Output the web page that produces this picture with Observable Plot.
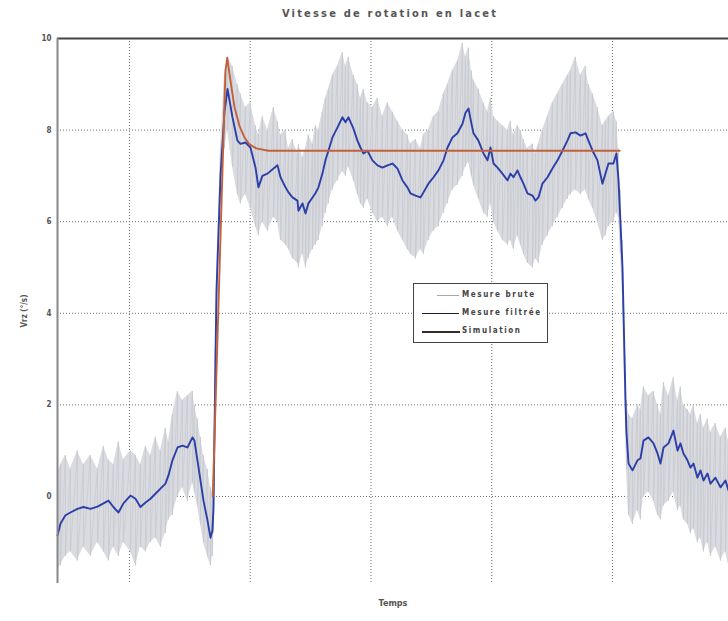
<!DOCTYPE html>
<html><head><meta charset="utf-8">
<script src="https://cdn.jsdelivr.net/npm/d3@7"></script>
<script src="https://cdn.jsdelivr.net/npm/@observablehq/plot@0.6"></script>
<style>
body{margin:0;background:#fff;font-family:"DejaVu Sans Condensed","DejaVu Sans",sans-serif;}
#wrap{position:relative;width:728px;height:621px;overflow:hidden;background:#fff;}
#title{position:absolute;left:390px;top:7px;transform:translateX(-50%);white-space:nowrap;font-size:11px;font-weight:bold;letter-spacing:2.2px;color:#555;}
#chart{position:absolute;left:0;top:30px;}
#legend{position:absolute;left:413px;top:283px;width:133px;height:58px;border:1.5px solid #444;background:#fff;}
.row{position:absolute;left:0;width:133px;height:12px;}
.sw{position:absolute;top:6px;}
.lab{position:absolute;left:48px;top:0;font-size:8px;font-weight:bold;letter-spacing:1.6px;color:#444;line-height:12px;}
</style></head><body>
<div id="wrap">
<div id="title">Vitesse de rotation en lacet</div>
<div id="chart"></div>
<div id="legend">
  <div class="row" style="top:5px"><div class="sw" style="left:23px;width:22px;border-top:1px solid #a9a9a9"></div><div class="lab">Mesure brute</div></div>
  <div class="row" style="top:23px"><div class="sw" style="left:8px;width:37px;border-top:1.5px solid #1d1f3a"></div><div class="lab">Mesure filtrée</div></div>
  <div class="row" style="top:41px"><div class="sw" style="left:8px;width:38px;border-top:2px solid #3a2a26"></div><div class="lab">Simulation</div></div>
</div>
</div>
<script>
// Time samples (filtered measurement and raw envelope)
const t = [4.04,4.29,4.70,5.11,5.69,6.19,6.77,7.35,7.85,8.26,8.67,9.09,9.50,10.08,10.50,10.91,11.33,11.74,12.15,12.57,12.98,13.23,13.56,13.98,14.39,14.80,15.22,15.38,15.63,15.88,16.13,16.46,16.71,16.87,16.96,17.12,17.21,17.54,17.87,18.12,18.53,18.94,19.19,19.61,20.02,20.44,20.68,21.01,21.43,21.93,22.26,22.51,22.92,23.17,23.50,23.91,24.00,24.33,24.58,24.82,25.16,25.40,25.65,25.98,26.23,26.48,26.81,27.23,27.64,27.89,28.14,28.55,28.88,29.13,29.38,29.71,30.12,30.54,30.95,31.37,31.78,32.20,32.61,33.02,33.27,33.69,34.10,34.35,34.76,35.18,35.59,36.01,36.34,36.75,37.16,37.58,37.83,38.08,38.32,38.49,38.90,39.32,39.65,39.90,40.15,40.48,40.89,41.31,41.55,41.80,42.13,42.38,42.63,42.96,43.38,43.62,43.87,44.20,44.62,45.03,45.45,45.86,46.27,46.52,46.94,47.35,47.77,48.01,48.35,48.76,49.17,49.42,49.67,50.08,50.33,50.50,50.66,50.83,51.08,51.16,51.33,51.66,52.07,52.32,52.57,52.98,53.40,53.73,53.98,54.23,54.64,55.05,55.39,55.63,55.88,56.21,56.46,56.71,57.04,57.29,57.54,57.87,58.12,58.53,58.95,59.36,59.61];
// Mesure filtrée (°/s)
const filtered = [-0.85,-0.59,-0.41,-0.35,-0.27,-0.23,-0.27,-0.22,-0.15,-0.09,-0.23,-0.35,-0.15,0.02,-0.05,-0.23,-0.13,-0.05,0.06,0.17,0.28,0.46,0.79,1.07,1.11,1.07,1.29,1.22,0.79,0.35,-0.09,-0.52,-0.90,-0.74,-0.24,2.97,4.50,7.00,8.40,8.90,8.28,7.77,7.70,7.73,7.62,7.18,6.75,7.00,7.05,7.16,7.23,6.97,6.75,6.64,6.53,6.46,6.24,6.40,6.18,6.40,6.53,6.62,6.75,7.05,7.34,7.55,7.84,8.06,8.28,8.17,8.28,8.03,7.77,7.62,7.49,7.55,7.34,7.23,7.18,7.23,7.27,7.16,6.90,6.75,6.62,6.57,6.53,6.64,6.83,6.97,7.12,7.34,7.62,7.84,7.93,8.14,8.38,8.47,8.14,7.93,7.77,7.49,7.34,7.62,7.27,7.18,7.05,6.90,7.05,6.97,7.12,6.97,6.83,6.62,6.57,6.46,6.53,6.83,6.97,7.16,7.34,7.55,7.77,7.93,7.95,7.88,7.93,7.77,7.55,7.34,6.83,7.05,7.27,7.27,7.49,6.90,6.00,5.00,2.10,1.40,0.72,0.57,0.79,0.83,1.22,1.29,1.16,0.94,0.72,1.07,1.16,1.44,1.00,1.16,0.94,0.79,0.63,0.72,0.41,0.57,0.35,0.50,0.28,0.41,0.20,0.35,0.13];
// Mesure brute: upper and lower extent of the noisy raw signal (°/s)
const rawHi = [0.5,0.7,0.9,0.6,1.0,0.7,0.9,0.6,1.1,0.8,0.7,1.2,0.8,1.0,0.9,0.7,1.1,0.9,1.3,1.0,1.5,1.2,1.8,2.3,2.1,2.2,2.3,2.0,1.7,1.3,0.9,0.6,0.2,0.1,0.3,3.3,4.9,7.6,9.2,9.6,9.4,9.0,8.8,8.5,8.6,8.1,7.9,8.3,8.0,8.5,8.2,7.9,8.0,7.6,7.8,7.5,7.7,7.4,7.6,7.9,7.7,8.1,8.0,8.4,8.7,8.9,9.2,9.4,9.7,9.4,9.6,9.2,9.0,8.7,8.9,8.6,8.5,8.7,8.3,8.6,8.4,8.2,8.0,7.9,7.7,7.8,7.6,7.9,8.0,8.3,8.4,8.8,9.0,9.3,9.5,9.9,9.6,9.8,9.3,9.1,8.9,8.6,8.4,8.7,8.3,8.2,8.1,8.0,8.2,7.9,8.1,8.0,7.8,7.6,7.7,7.5,7.7,8.0,8.3,8.6,8.8,9.0,9.2,9.3,9.6,9.2,9.4,9.0,8.8,8.5,8.1,8.2,8.3,8.4,8.2,7.6,6.7,5.6,2.7,2.1,1.8,1.7,2.0,1.9,2.4,2.2,2.3,2.0,1.8,2.5,2.2,2.6,2.1,2.4,2.0,1.9,1.8,2.0,1.6,1.8,1.5,1.7,1.4,1.6,1.3,1.5,1.2];
const rawLo = [-1.6,-1.5,-1.3,-1.2,-1.4,-1.1,-1.3,-1.0,-1.2,-1.4,-1.1,-1.3,-1.0,-1.2,-1.5,-1.1,-1.2,-1.0,-0.9,-1.1,-0.8,-0.5,-0.4,0.0,0.2,-0.1,0.3,0.1,-0.2,-0.6,-1.0,-1.3,-1.5,-1.3,-0.8,2.5,4.0,6.4,7.6,8.0,7.2,6.6,6.4,6.6,6.3,5.9,5.7,6.0,5.8,6.1,6.0,5.6,5.5,5.4,5.2,5.1,5.0,5.3,5.0,5.2,5.4,5.5,5.6,5.9,6.2,6.4,6.7,6.9,7.1,7.0,7.2,6.9,6.6,6.4,6.3,6.5,6.2,6.0,6.1,5.9,6.1,5.8,5.6,5.4,5.3,5.2,5.4,5.3,5.6,5.8,5.9,6.2,6.4,6.7,6.8,7.0,7.2,7.3,7.0,6.8,6.5,6.2,6.1,6.4,6.0,5.8,5.6,5.5,5.6,5.4,5.7,5.5,5.3,5.1,5.0,5.2,5.1,5.5,5.7,5.9,6.1,6.3,6.5,6.6,6.7,6.6,6.7,6.5,6.3,6.0,5.6,5.7,5.9,6.0,6.2,6.1,5.3,4.4,1.5,0.6,-0.4,-0.6,-0.3,-0.5,0.0,0.1,-0.1,-0.4,-0.5,-0.2,-0.1,0.1,-0.3,-0.2,-0.5,-0.6,-0.8,-0.7,-1.0,-0.9,-1.2,-1.0,-1.3,-1.1,-1.4,-1.2,-1.5];
// Simulation (°/s)
const simT = [16.90,17.95,18.10,18.35,18.70,19.10,19.50,19.90,20.50,21.50,50.60];
const simV = [0,9.30,9.58,9.10,8.50,8.10,7.85,7.70,7.60,7.55,7.55];
// Axes
const xDomain = [4.04, 59.61];
const yDomain = [-1.9, 10];
const xGrid = [10, 20, 30, 40, 50];
const yGrid = [0, 2, 4, 6, 8];
const yTicks = [0, 2, 4, 6, 8, 10];

const raw = t.map((d, i) => ({t: d, hi: rawHi[i], lo: rawLo[i]}));
const rawZig = raw.flatMap(d => [{t: d.t, v: d.hi}, {t: d.t, v: d.lo}]);
const filt = t.map((d, i) => ({t: d, v: filtered[i]}));
const sim = simT.map((d, i) => ({t: d, v: simV[i]}));

const chart = Plot.plot({
  width: 728, height: 591,
  marginTop: 8, marginBottom: 38, marginLeft: 57, marginRight: 0,
  x: {domain: xDomain},
  y: {domain: yDomain},
  style: {fontFamily: "'DejaVu Sans Condensed','DejaVu Sans',sans-serif", background: "transparent", color: "#555"},
  marks: [
    Plot.gridX(xGrid, {stroke: "#555", strokeOpacity: 0.85, strokeDasharray: "1,2"}),
    Plot.gridY(yGrid, {stroke: "#555", strokeOpacity: 0.85, strokeDasharray: "1,2"}),
    Plot.areaY(raw, {x: "t", y1: "lo", y2: "hi", fill: "#dadbe0", curve: "linear"}),
    Plot.line(rawZig, {x: "t", y: "v", stroke: "#c6c8ce", strokeWidth: 0.7}),
    Plot.line(filt, {x: "t", y: "v", stroke: "#2c3fa8", strokeWidth: 1.9}),
    Plot.line(sim, {x: "t", y: "v", stroke: "#c2623c", strokeWidth: 1.9}),
    Plot.ruleY([yDomain[1]], {stroke: "#444", strokeWidth: 2}),
    Plot.ruleX([xDomain[0]], {stroke: "#888", strokeWidth: 2}),
    Plot.axisY(yTicks, {tickSize: 0, tickPadding: 6, fontSize: 8, fontWeight: "bold",
      label: "Vrz (°/s)", labelAnchor: "center", labelOffset: 36, labelArrow: "none"}),
    Plot.axisX(xGrid, {tickSize: 0, tickFormat: () => "", fontSize: 9, fontWeight: "bold",
      label: "Temps", labelAnchor: "center", labelOffset: 22, labelArrow: "none"})
  ]
});
document.getElementById("chart").appendChild(chart);
</script>
</body></html>
